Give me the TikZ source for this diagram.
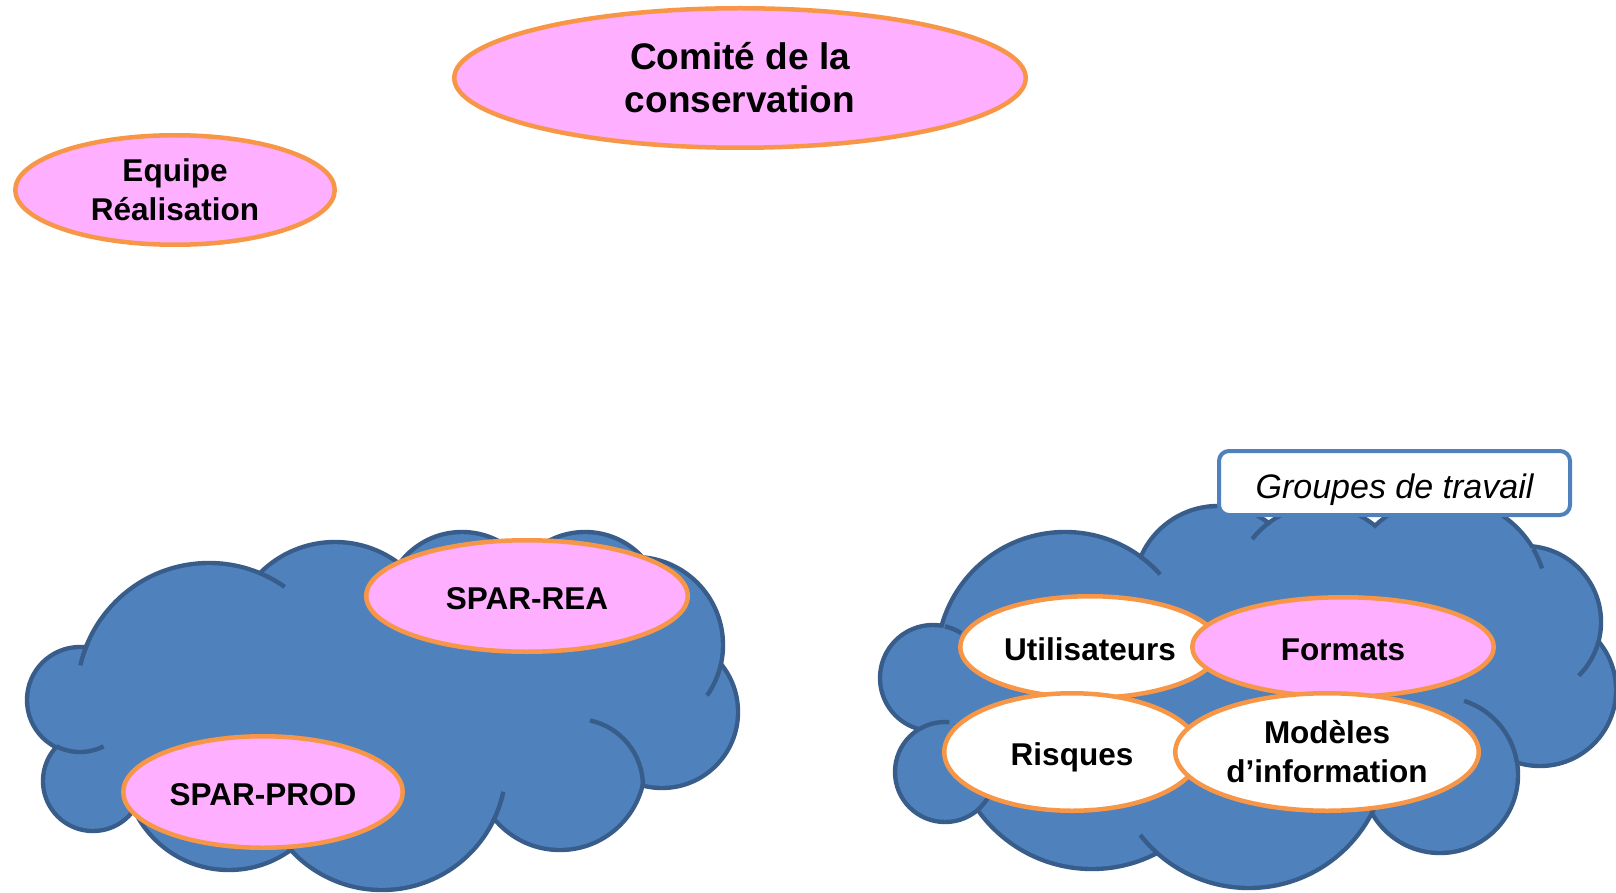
\documentclass[tikz,border=0pt]{standalone}
\usepackage{fontspec}
\setmainfont{Liberation Sans}
\usetikzlibrary{shapes.geometric}
\definecolor{cloudfill}{HTML}{4F81BD}
\definecolor{cloudline}{HTML}{385D8A}
\definecolor{pinkfill}{HTML}{FFAFFF}
\definecolor{orangeline}{HTML}{F79646}
\definecolor{boxline}{HTML}{4F81BD}
\newcommand\cloudtick[5]{\draw[tickline] (#1,#2) ++(#4:#3) arc[start angle=#4, end angle=#5, radius=#3];}
\begin{document}
\begin{tikzpicture}[x=1pt,y=-1pt,
  bubble/.style={ellipse, draw=orangeline, line width=4.5pt, fill=pinkfill, inner sep=0pt, align=center,
    font=\bfseries\fontsize{31.5}{39}\selectfont},
  whitebubble/.style={bubble, fill=white},
  oneline/.style={text height=26pt, text depth=0pt},
  tickline/.style={draw=cloudline, line width=4.4pt},
  groupbox/.style={draw=boxline, line width=4pt, rounded corners=10pt, fill=white, inner sep=0pt,
    text height=37pt, text depth=7pt, font=\itshape\fontsize{34}{40}\selectfont}
]
\useasboundingbox (0,0) rectangle (1616,893);
\fill[white] (0,0) rectangle (1616,893);

% ---------- left cloud ----------
\def\leftpuffs{209/695/132, 335/648/106, 462/610/78, 585/610/78, 635/645/88, 662/712/76, 560/765/85, 382/766/124, 229/765/105, 93/781/50, 80/700/53, 480/700/100}
\foreach \cx/\cy/\rr in \leftpuffs { \fill[cloudline] (\cx,\cy) circle[radius=\rr+2.2]; }
\foreach \cx/\cy/\rr in \leftpuffs { \fill[cloudfill] (\cx,\cy) circle[radius=\rr-2.2]; }
\cloudtick{209}{695}{132}{203}{193}
\cloudtick{209}{695}{132}{-67}{-55}
\cloudtick{80}{700}{52}{117}{63}
\cloudtick{93}{781}{50}{38}{18}
\cloudtick{382}{766}{124}{27}{12}
\cloudtick{382}{766}{124}{136}{146}
\cloudtick{576}{786}{67}{-78}{0}
\cloudtick{635}{645}{88}{12}{35}

% ---------- right cloud ----------
\def\rightpuffs{1065/660/128, 1218/590/84, 1320/592/86, 1445/600/102, 1525/622/76, 1540/690/76, 1440/775/78, 1249/750/138, 1092/729/140, 945/772/50, 933/678/53, 1400/700/70}
\foreach \cx/\cy/\rr in \rightpuffs { \fill[cloudline] (\cx,\cy) circle[radius=\rr+2.2]; }
\foreach \cx/\cy/\rr in \rightpuffs { \fill[cloudfill] (\cx,\cy) circle[radius=\rr-2.2]; }
\cloudtick{1065}{660}{128}{-54}{-42}
\cloudtick{933}{678}{53}{-77}{-58}
\cloudtick{945}{772}{50}{240}{275}
\cloudtick{945}{772}{50}{47}{28}
\cloudtick{1249}{750}{138}{132}{142}
\cloudtick{1249}{750}{138}{27}{17}
\cloudtick{1440}{775}{78}{-72}{-10}
\cloudtick{1525}{622}{76}{15}{45}
\cloudtick{1445}{600}{102}{-30}{-18}
\cloudtick{1320}{592}{86}{234}{218}

% ---------- nodes ----------
\node[bubble, minimum width=571.5pt, minimum height=139.5pt,
  font=\bfseries\fontsize{37}{43}\selectfont] (comite) at (740,78) {Comité de la\\conservation};
\node[bubble, minimum width=319.5pt, minimum height=109.5pt] (equipe) at (175,190) {Equipe\\Réalisation};
\node[bubble, oneline, minimum width=321.5pt, minimum height=111.5pt] (sparrea) at (527,596) {SPAR-REA};
\node[bubble, oneline, minimum width=279.5pt, minimum height=111.5pt] (sparprod) at (263,792) {SPAR-PROD};

\node[groupbox, minimum width=351pt, minimum height=64pt] (groupes) at (1394.5,483) {Groupes de travail};

\node[whitebubble, oneline, minimum width=259.5pt, minimum height=101.5pt] (util) at (1090,647) {Utilisateurs};
\node[bubble, oneline, minimum width=301.5pt, minimum height=99.5pt] (formats) at (1343,647) {Formats};
\node[whitebubble, oneline, minimum width=255.5pt, minimum height=117.5pt] (risques) at (1072,752) {Risques};
\node[whitebubble, minimum width=303.5pt, minimum height=117.5pt] (modeles) at (1327,752) {Modèles\\d’information};
\end{tikzpicture}
\end{document}
